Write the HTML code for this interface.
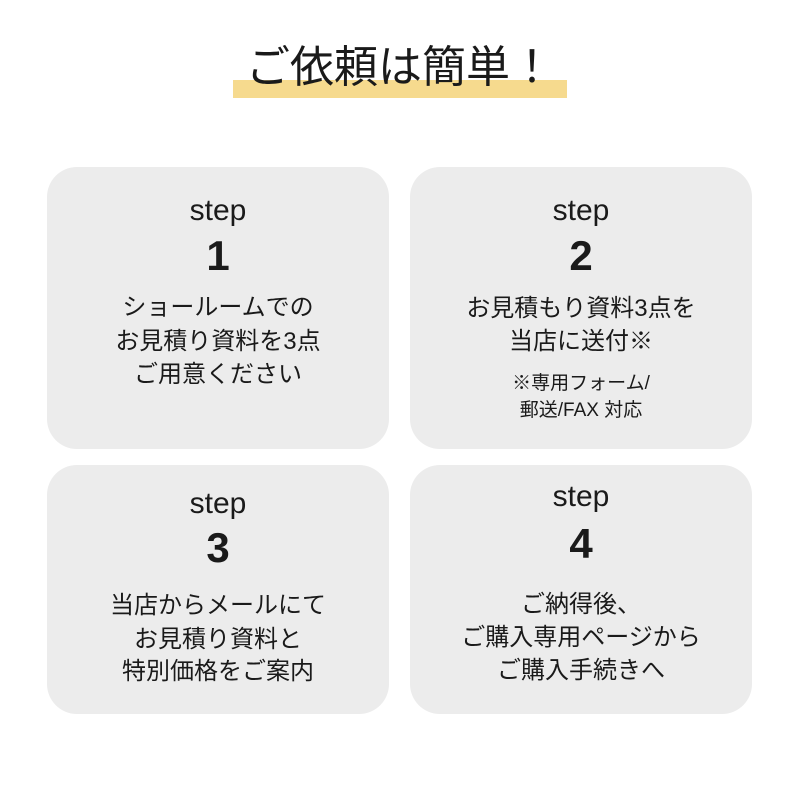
<!DOCTYPE html>
<html><head><meta charset="utf-8"><style>
body{margin:0;width:800px;height:800px;background:#fff;position:relative;overflow:hidden;font-family:"Liberation Sans","Noto Sans CJK JP",sans-serif;color:#1a1a1a}
.bar{position:absolute;left:233px;top:80px;width:334px;height:18px;background:#f6da8e}
.card{position:absolute;background:#ececec;border-radius:30px}
.t{position:absolute;width:342px;text-align:center;white-space:nowrap}
.s{font-size:30px;line-height:36px}
.n{font-size:42px;line-height:48px;font-weight:bold}
.b{font-size:24px;line-height:30px}
.m{font-size:19px;line-height:26px}
</style></head><body>
<div class="bar"></div>
<div style="position:absolute;left:0;top:42px;width:800px;text-align:center;font-size:44px;line-height:52px;">ご依頼は簡単！</div>

<div class="card" style="left:47px;top:167px;width:342px;height:282px"></div>
<div class="card" style="left:410px;top:167px;width:342px;height:282px"></div>
<div class="card" style="left:47px;top:465px;width:342px;height:249px"></div>
<div class="card" style="left:410px;top:465px;width:342px;height:249px"></div>

<div class="t s" style="left:47px;top:193px">step</div>
<div class="t n" style="left:47px;top:232px">1</div>
<div class="t b" style="left:47px;top:293px">ショールームでの</div>
<div class="t b" style="left:47px;top:327px">お見積り資料を3点</div>
<div class="t b" style="left:47px;top:360px">ご用意ください</div>

<div class="t s" style="left:410px;top:193px">step</div>
<div class="t n" style="left:410px;top:232px">2</div>
<div class="t b" style="left:410px;top:294px">お見積もり資料3点を</div>
<div class="t b" style="left:410px;top:327px">当店に送付※</div>
<div class="t m" style="left:410px;top:371px">※専用フォーム/</div>
<div class="t m" style="left:410px;top:398px">郵送/FAX 対応</div>

<div class="t s" style="left:47px;top:486px">step</div>
<div class="t n" style="left:47px;top:524px">3</div>
<div class="t b" style="left:47px;top:591px">当店からメールにて</div>
<div class="t b" style="left:47px;top:625px">お見積り資料と</div>
<div class="t b" style="left:47px;top:657px">特別価格をご案内</div>

<div class="t s" style="left:410px;top:479px">step</div>
<div class="t n" style="left:410px;top:520px">4</div>
<div class="t b" style="left:410px;top:590px">ご納得後、</div>
<div class="t b" style="left:410px;top:623px">ご購入専用ページから</div>
<div class="t b" style="left:410px;top:656px">ご購入手続きへ</div>
</body></html>
